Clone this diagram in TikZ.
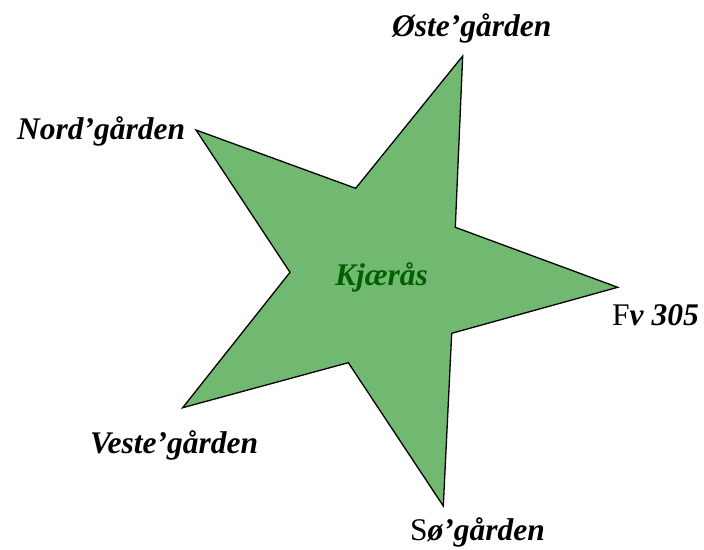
\documentclass[tikz,border=0pt]{standalone}
\usepackage{fontspec}
\setmainfont{Liberation Serif}
\definecolor{stargreen}{RGB}{113,185,113}
\definecolor{namegreen}{RGB}{0,96,0}
\begin{document}
\begin{tikzpicture}[x=1pt, y=-1pt,
    farm/.style={inner sep=0pt, anchor=base west, font=\fontsize{31.5}{36}\selectfont\bfseries\itshape}]
    \useasboundingbox (0,0) rectangle (704,549);

    % Star points and inner corners
    \coordinate (tipN)  at (462.7,56);
    \coordinate (inNE)  at (455.3,227.3);
    \coordinate (tipE)  at (617.7,287.3);
    \coordinate (inSE)  at (451.7,333.3);
    \coordinate (tipS)  at (443.3,506);
    \coordinate (inSW)  at (348.3,362.7);
    \coordinate (tipSW) at (182.7,407.7);
    \coordinate (inW)   at (290,272.3);
    \coordinate (tipNW) at (196,130);
    \coordinate (inNW)  at (355.7,188.3);

    % Star
    \draw[fill=stargreen, line width=1.3pt, line join=miter]
        (tipN) -- (inNE) -- (tipE) -- (inSE) -- (tipS) -- (inSW)
        -- (tipSW) -- (inW) -- (tipNW) -- (inNW) -- cycle;

    % Centre
    \node[farm, text=namegreen] (kjeras) at (335,285) {Kjærås};

    % Labels
    \node[farm] (nord)  at (17,139)  {Nord’gården};
    \node[farm] (oste)  at (392,36)  {Øste’gården};
    \node[farm] (fv)    at (612,325) {{\mdseries\upshape F}v 305};
    \node[farm] (so)    at (410,540) {{\mdseries\upshape S}ø’gården};
    \node[farm] (veste) at (90,453)  {Veste’gården};
\end{tikzpicture}
\end{document}
